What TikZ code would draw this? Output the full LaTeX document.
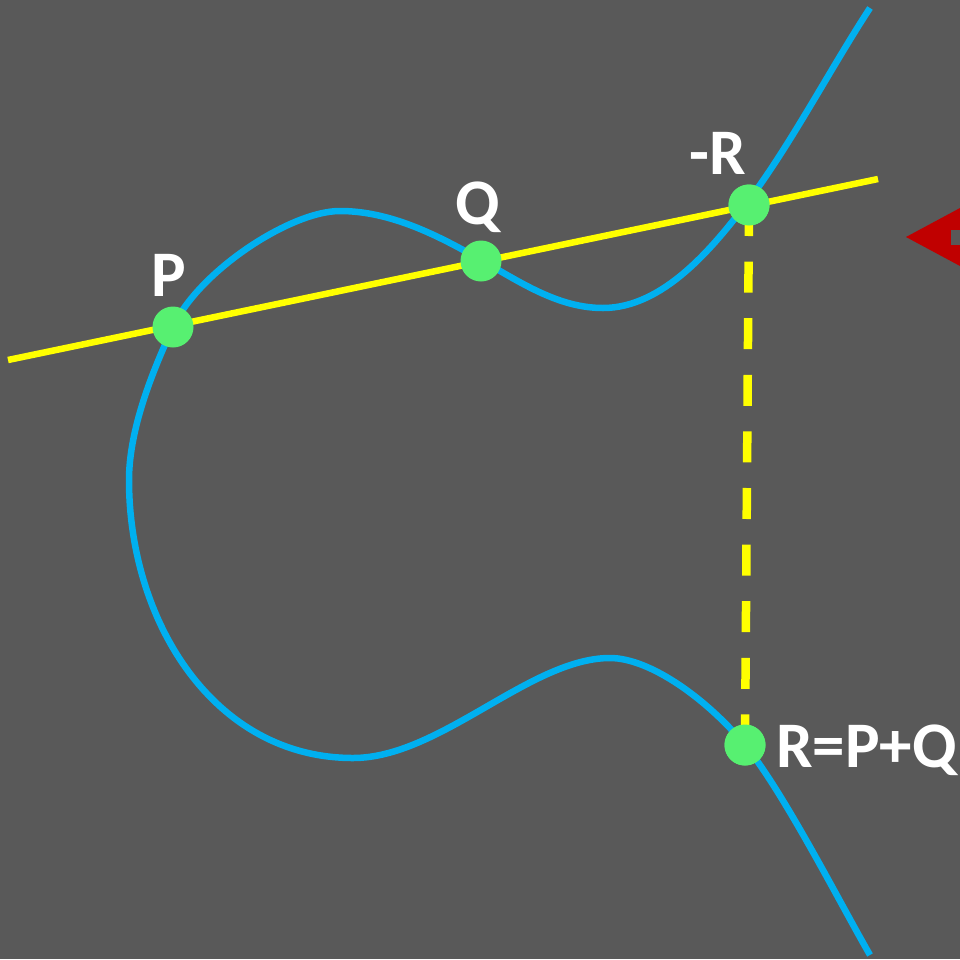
\documentclass[tikz,border=0pt]{standalone}
\usepackage{fontspec}
\setmainfont{Carlito}
\definecolor{bg}{HTML}{595959}
\definecolor{curveblue}{HTML}{00B0F0}
\definecolor{lineyellow}{HTML}{FFFF00}
\definecolor{dotgreen}{HTML}{57F071}
\definecolor{arrowred}{HTML}{C00000}
\begin{document}
\begin{tikzpicture}[x=1pt,y=-1pt,
  curve/.style={curveblue,line width=6.5pt,line join=round},
  chord/.style={lineyellow,line width=6.5pt},
  vdash/.style={lineyellow,line width=8.5pt,dash pattern=on 31pt off 25.6pt},
  pt/.style={circle,fill=dotgreen,inner sep=0pt,minimum size=41pt},
  lbl/.style={text=white,font=\fontsize{65}{65}\selectfont\bfseries,inner sep=0pt}]
\fill[bg] (0,0) rectangle (960,959);
\useasboundingbox (0,0) rectangle (960,959);
% curve
\draw[curve] (870,8)
  .. controls (831.5,66.8) and (791,144) .. (749,200)
  .. controls (713,248) and (663,308) .. (603,308)
  .. controls (558,308) and (520,282) .. (481,260)
  .. controls (437.5,235) and (390,211) .. (340,211)
  .. controls (290,211) and (198,272) .. (173,327)
  .. controls (152,372) and (129,430) .. (129,480)
  .. controls (129,620) and (213,758) .. (353,758)
  .. controls (440,758) and (530,658) .. (610,658)
  .. controls (650,658) and (707,699) .. (745,745)
  .. controls (783,791) and (840,903) .. (870,955);
% chord
\coordinate (L) at (8,360);
\coordinate (Rr) at (878,179);
\draw[chord] (L) -- (Rr);
% points
\node[pt] (mR) at (749,205) {};
\node[pt] (R) at (745,745) {};
\draw[vdash] (mR.center) -- (R.center);
\node[pt] (P) at (173,327) {};
\node[pt] (Q) at (481,261) {};
\node[pt] at (mR) {};
\node[pt] at (R) {};
% labels
\node[lbl] at (169,275) {P};
\node[lbl] at (478,207) {Q};
\node[lbl] at (718,153) {-R};
\node[lbl,anchor=west] at (776,750) {R=P+Q};
% red arrow at the edge
\fill[arrowred] (906,237) -- (960,208) -- (960,266) -- cycle;
\fill[bg] (951,230) -- (960,230) -- (960,245) -- (951,245) -- cycle;
\end{tikzpicture}
\end{document}
